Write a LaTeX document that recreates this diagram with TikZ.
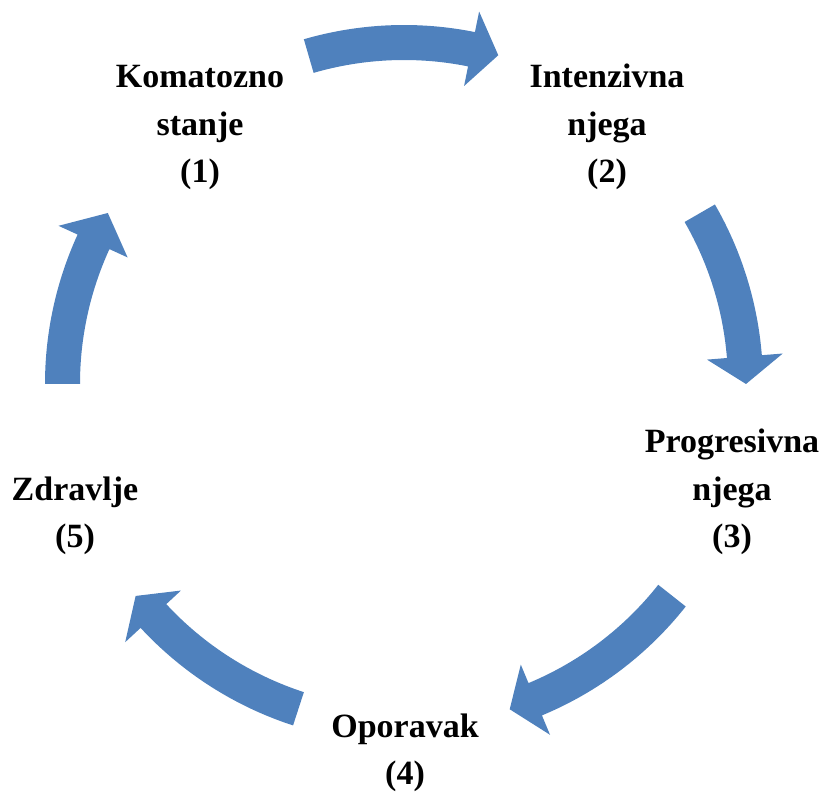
\documentclass[tikz,border=0pt]{standalone}
\usepackage{fontspec}
\setmainfont{Liberation Serif}
\definecolor{arrowblue}{RGB}{79,129,189}
% one block arc arrow on the ring around the centre (404,410):
% #1 tail angle, #2 angle where the head begins, #3 tip angle
\newcommand\ringarrow[3]{%
  \fill[ringfill] (#1:359) arc[start angle=#1, end angle=#2, radius=359]
    -- (#2:380) -- (#3:342) -- (#2:304) -- (#2:324)
    arc[start angle=#2, end angle=#1, radius=324] -- cycle;}
\begin{document}
\begin{tikzpicture}[x=1pt,y=1pt,
  ringfill/.style={fill=arrowblue},
  stage/.style={align=center, inner sep=0pt, anchor=base,
    font=\fontsize{34}{47.5}\selectfont\bfseries}]
\useasboundingbox (0,0) rectangle (824,794);
\begin{scope}[shift={(404,410)}]
  \ringarrow{106.2}{78.6}{74}
  \ringarrow{30}{4.6}{0}
  \ringarrow{-38.3}{-67.4}{-72}
  \ringarrow{-108}{-137.2}{-141.7}
  \ringarrow{180}{155.4}{150}
\end{scope}
% the base anchor sits on the last line of each label
\node[stage] (s1) at (200,611) {Komatozno\\stanje\\(1)};
\node[stage] (s2) at (607,611) {Intenzivna\\njega\\(2)};
\node[stage] (s3) at (732,246) {Progresivna\\njega\\(3)};
\node[stage] (s4) at (405,9) {Oporavak\\(4)};
\node[stage] (s5) at (75,246) {Zdravlje\\(5)};
\end{tikzpicture}
\end{document}
